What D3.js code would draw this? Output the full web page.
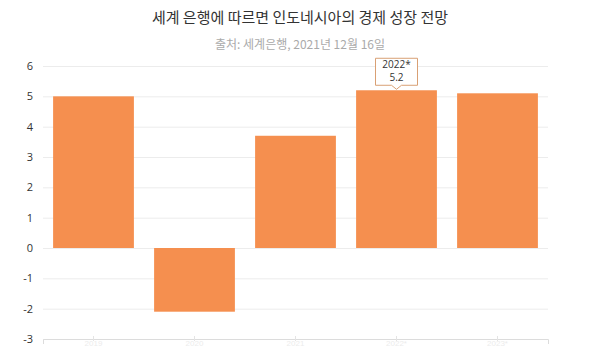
<!DOCTYPE html>
<html>
<head>
<meta charset="utf-8">
<script src="https://cdn.jsdelivr.net/npm/d3@7/dist/d3.min.js"></script>
<style>
  html, body { margin: 0; padding: 0; background: #fff; }
  svg { display: block; font-family: "Open Sans", "Noto Sans CJK KR", sans-serif; }
</style>
</head>
<body>
<svg id="chart" width="600" height="350"></svg>
<script>
// Indonesia GDP growth outlook (World Bank)
const years = ["2019", "2020", "2021", "2022*", "2023*"];
const growth = [5.0, -2.1, 3.7, 5.2, 5.1];
const yTicks = [-3, -2, -1, 0, 1, 2, 3, 4, 5, 6];
const titleText = "세계 은행에 따르면 인도네시아의 경제 성장 전망";
const subtitleText = "출처: 세계은행, 2021년 12월 16일";
const highlightIndex = 3;

const svg = d3.select("#chart");
const W = 600, H = 350;
const margin = { left: 43, right: 52, top: 66, bottom: 11 };

const x = d3.scaleBand()
  .domain(years)
  .range([margin.left, W - margin.right])
  .paddingInner(0.2)
  .paddingOuter(0.1);

const y = d3.scaleLinear()
  .domain([-3, 6])
  .range([H - margin.bottom, margin.top]);

// Title block
svg.append("text")
  .attr("x", 300).attr("y", 23)
  .attr("text-anchor", "middle")
  .attr("font-family", "'Noto Sans CJK KR', sans-serif")
  .attr("font-size", 15)
  .attr("fill", "#333")
  .text(titleText);

svg.append("text")
  .attr("x", 300).attr("y", 49)
  .attr("text-anchor", "middle")
  .attr("font-family", "'Noto Sans CJK KR', sans-serif")
  .attr("font-size", 12)
  .attr("fill", "#aaa")
  .text(subtitleText);

// Horizontal grid
const grid = svg.append("g")
  .attr("transform", `translate(${margin.left},0)`)
  .call(d3.axisLeft(y).tickValues(yTicks).tickSize(-(W - margin.left - margin.right)).tickFormat(""));
grid.select(".domain").remove();
grid.selectAll(".tick line").attr("stroke", "#ececec");

// Y labels (plain hyphen for negatives)
const yAxis = svg.append("g")
  .attr("transform", `translate(${margin.left - 10},0)`)
  .call(d3.axisLeft(y).tickValues(yTicks).tickSize(0).tickPadding(0).tickFormat(d => String(d)));
yAxis.select(".domain").remove();
yAxis.selectAll("text")
  .attr("font-size", 11)
  .attr("fill", "#333")
  .attr("font-family", "'Open Sans', sans-serif");

// Bottom axis with faint labels
const xAxis = svg.append("g")
  .attr("transform", `translate(0,${y(-3)})`)
  .call(d3.axisBottom(x).tickSize(5));
xAxis.select(".domain").attr("stroke", "#dcdcdc");
xAxis.selectAll(".tick line").attr("stroke", "#e4e4e4").attr("transform", "translate(0,-3)");
xAxis.selectAll("text")
  .attr("y", 1.5)
  .attr("font-size", 8)
  .attr("fill", "#ececec");

// Bars
svg.append("g")
  .selectAll("rect")
  .data(growth)
  .join("rect")
  .attr("x", (d, i) => x(years[i]))
  .attr("width", x.bandwidth())
  .attr("y", d => y(Math.max(0, d)))
  .attr("height", d => Math.abs(y(d) - y(0)))
  .attr("fill", "#f58f4f");

// Tooltip for the highlighted bar
const hx = x(years[highlightIndex]) + x.bandwidth() / 2;
const hy = y(growth[highlightIndex]);
const tw = 42, th = 27, gap = 5;
const tip = svg.append("g").attr("transform", `translate(${hx},${hy - gap})`);
tip.append("path")
  .attr("d", `M${-tw/2},${-th} H${tw/2} V0 H5 L0,4 L-5,0 H${-tw/2} Z`)
  .attr("fill", "#fff")
  .attr("stroke", "#d9a074")
  .attr("stroke-width", 1);
tip.append("text")
  .attr("x", 0).attr("y", -th + 10)
  .attr("text-anchor", "middle")
  .attr("font-size", 10)
  .attr("fill", "#333")
  .text(years[highlightIndex]);
tip.append("text")
  .attr("x", 0).attr("y", -th + 23)
  .attr("text-anchor", "middle")
  .attr("font-size", 10)
  .attr("fill", "#333")
  .text(d3.format(".1f")(growth[highlightIndex]));
</script>
</body>
</html>
